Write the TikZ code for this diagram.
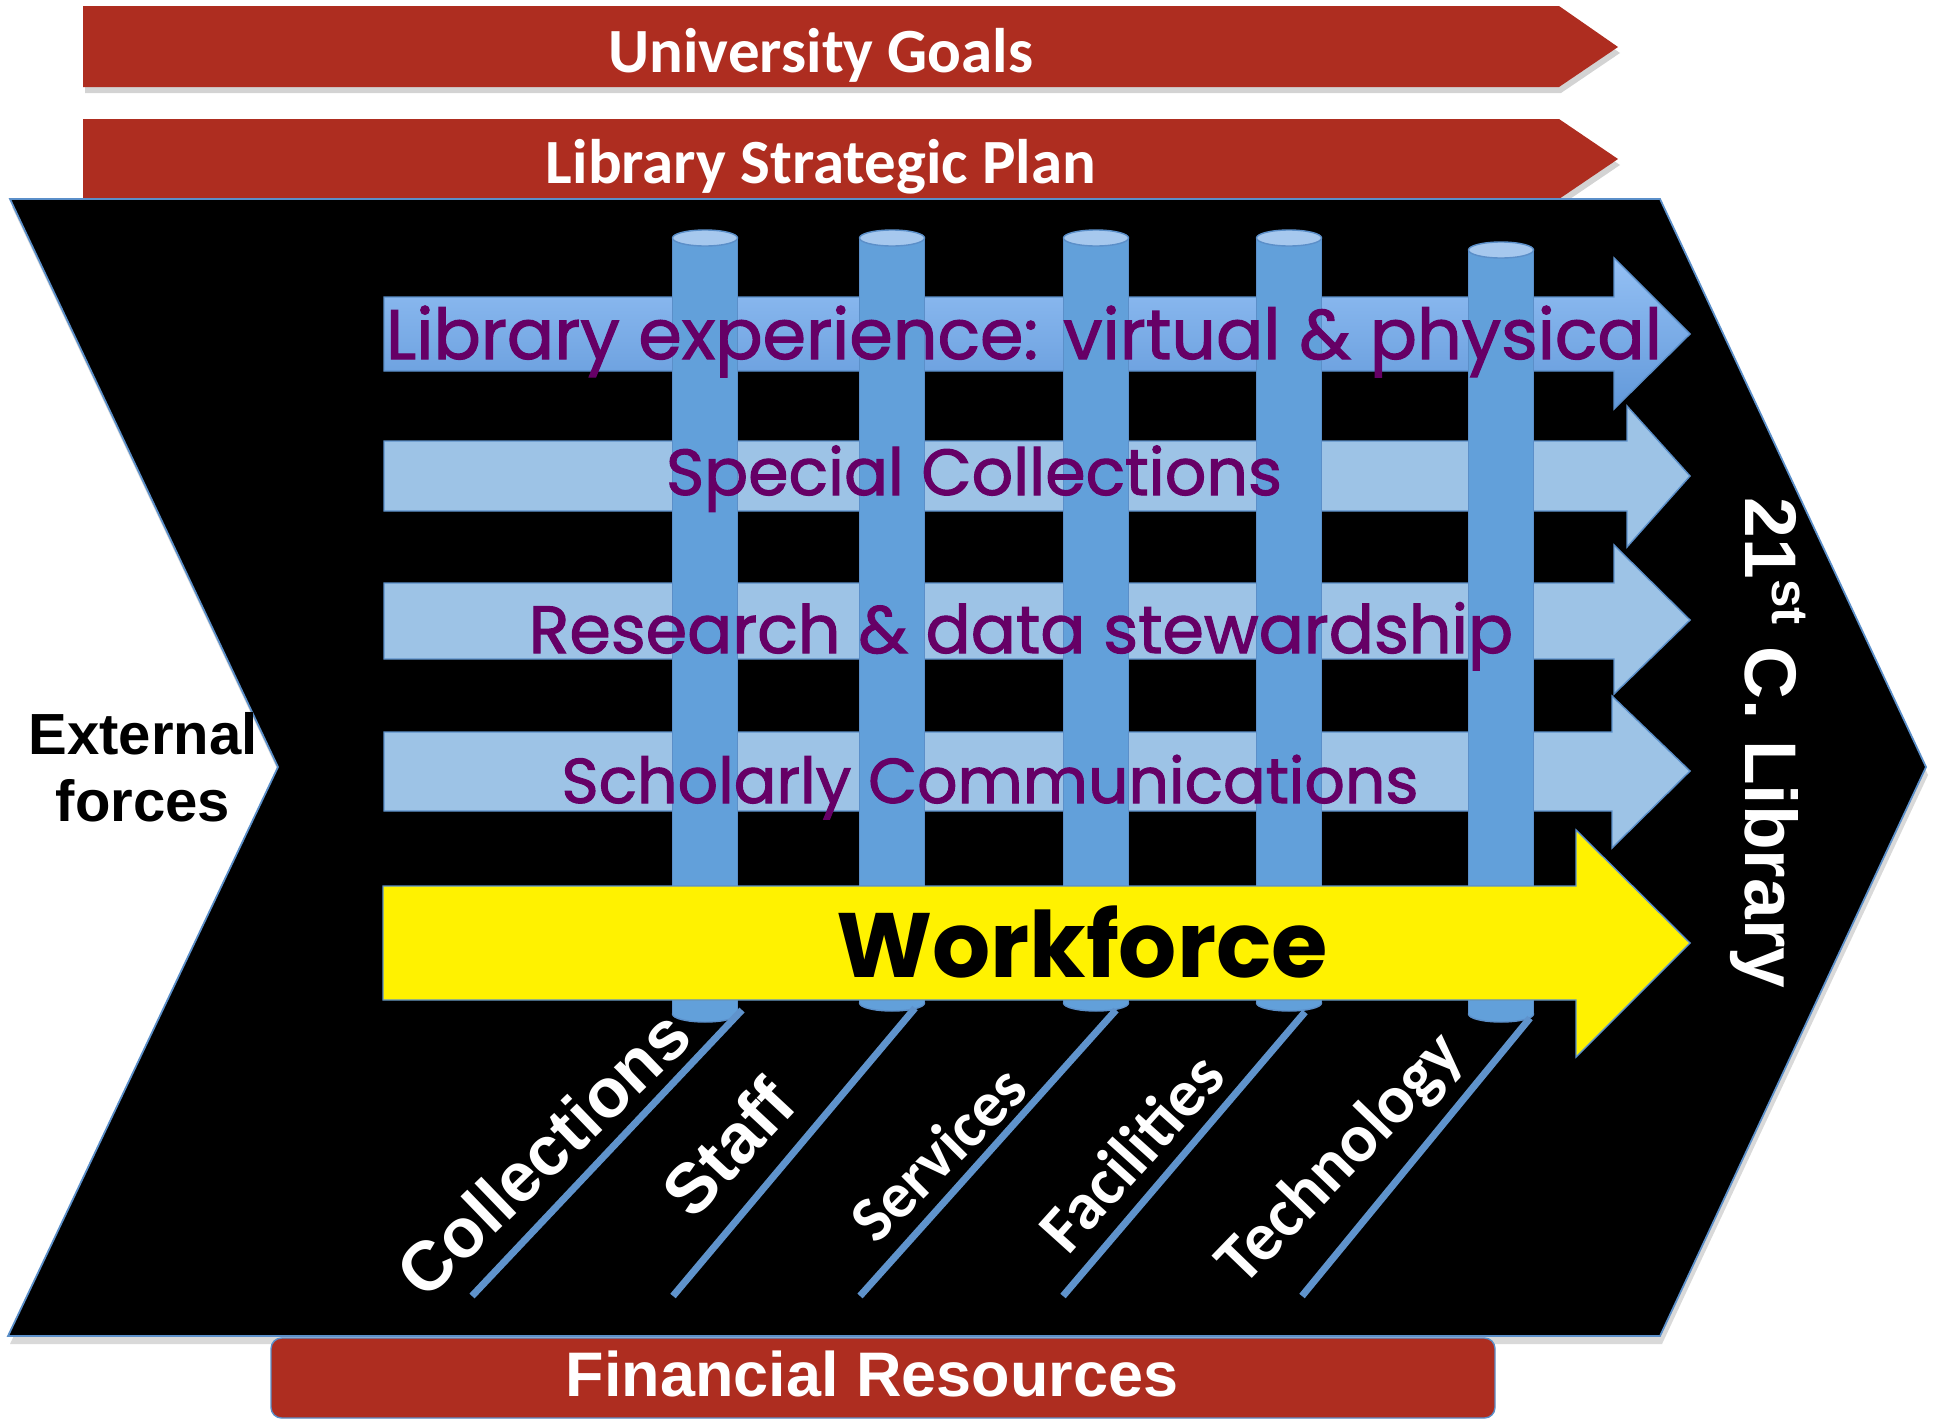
\documentclass[tikz,border=0pt]{standalone}
\usepackage{fontspec}
\setmainfont{Liberation Sans}
\newfontfamily\calibri{Carlito}
\newfontfamily\comic{Poppins}[FakeBold=1.6]
\newfontfamily\comicbold{Poppins Bold}
\usetikzlibrary{shadows}

\definecolor{goalred}{RGB}{174,45,32}
\definecolor{strandblue}{RGB}{157,195,230}
\definecolor{pillarblue}{RGB}{98,160,218}
\definecolor{pillartop}{RGB}{166,200,238}
\definecolor{edgeblue}{RGB}{91,143,201}
\definecolor{boneblue}{RGB}{95,147,204}
\definecolor{themepurple}{RGB}{102,0,102}

\def\pillar(#1)(#2:#3){%
	\filldraw[fill=pillarblue, draw=edgeblue, line width=0.4pt] (#1,#3) ellipse (32.5 and 8);
	\fill[pillarblue] (#1-32.5,#2) rectangle (#1+32.5,#3);
	\draw[edgeblue, line width=0.4pt] (#1-32.5,#2) -- (#1-32.5,#3) (#1+32.5,#2) -- (#1+32.5,#3);
	\filldraw[fill=pillartop, draw=edgeblue, line width=0.4pt] (#1,#2) ellipse (32.5 and 8);}

\begin{document}
\begin{tikzpicture}[x=0.01cm, y=-0.01cm,
		goaltext/.style={text=white, inner sep=0, anchor=base, font=\calibri\bfseries\fontsize{17.9}{21}\selectfont},
		themetext/.style={text=themepurple, inner sep=0, anchor=base},
		bonetext/.style={text=white, inner sep=0, anchor=center},
		bone/.style={boneblue, line width=2pt}]
		%%%%% START %%%%%
		\useasboundingbox (0,0) rectangle (1940,1421);
		
		% goals on top
		\fill[goalred, drop shadow={shadow xshift=0.02cm, shadow yshift=-0.06cm, opacity=0.35}] (83,6) -- (1559,6) -- (1618,47) -- (1559,87) -- (83,87) -- cycle;
		\fill[goalred, drop shadow={shadow xshift=0.02cm, shadow yshift=-0.06cm, opacity=0.35}] (83,119) -- (1559,119) -- (1618,159) -- (1559,199) -- (83,199) -- cycle;
		\node[goaltext] (goals) at (821,72) {University Goals};
		\node[goaltext] (plan) at (821,183) {Library Strategic Plan};
		
		% the black chevron
		\filldraw[fill=black, draw=edgeblue, line width=0.5pt, drop shadow={shadow xshift=0.02cm, shadow yshift=-0.08cm, opacity=0.3}]
			(10,199) -- (1660,199) -- (1926,767) -- (1660,1336) -- (8,1336) -- (278,767) -- cycle;
		
		% money at the bottom
		\filldraw[fill=goalred, draw=edgeblue, line width=0.4pt, rounded corners=3pt] (271,1338) rectangle (1495,1418);
		\node[text=white, inner sep=0, anchor=base, font=\bfseries\fontsize{17.9}{20}\selectfont] (money) at (872,1396) {Financial Resources};
		
		% strands
		\shade[top color={rgb,255:red,148;green,192;blue,244}, bottom color={rgb,255:red,98;green,153;blue,218}]
			(384,297) -- (1614,297) -- (1614,258) -- (1690,334) -- (1614,409) -- (1614,371) -- (384,371) -- cycle;
		\draw[edgeblue, line width=0.4pt] (384,297) -- (1614,297) -- (1614,258) -- (1690,334) -- (1614,409) -- (1614,371) -- (384,371) -- cycle;
		\filldraw[fill=strandblue, draw=edgeblue, line width=0.4pt] (384,441) -- (1627,441) -- (1627,406) -- (1690,476) -- (1627,547) -- (1627,511) -- (384,511) -- cycle;
		\filldraw[fill=strandblue, draw=edgeblue, line width=0.4pt] (384,583) -- (1614,583) -- (1614,545) -- (1690,620) -- (1614,694) -- (1614,659) -- (384,659) -- cycle;
		\filldraw[fill=strandblue, draw=edgeblue, line width=0.4pt] (384,732) -- (1612,732) -- (1612,696) -- (1690,771) -- (1612,848) -- (1612,811) -- (384,811) -- cycle;
		
		% pillars
		\pillar(705)(238:1014)
		\pillar(892)(238:1003)
		\pillar(1096)(238:1003)
		\pillar(1289)(238:1003)
		\pillar(1501)(250:1014)
		
		% workforce
		\filldraw[fill=yellow, draw=edgeblue, line width=0.4pt] (383,886) -- (1576,886) -- (1576,830) -- (1690,943) -- (1576,1057) -- (1576,1000) -- (383,1000) -- cycle;
		
		\node[themetext, font=\comic\fontsize{19.9}{23}\selectfont] (exp) at (1024,359) {Library experience: virtual \& physical};
		\node[themetext, font=\comic\fontsize{18.5}{22}\selectfont] (spec) at (974,495) {Special Collections};
		\node[themetext, font=\comic\fontsize{19}{22}\selectfont] (res) at (1021,653) {Research \& data stewardship};
		\node[themetext, font=\comic\fontsize{18}{22}\selectfont] (schol) at (990,803) {Scholarly Communications};
		\node[inner sep=0, anchor=base, font=\comicbold\fontsize{26}{30}\selectfont] (work) at (1082,977) {Workforce};
		
		% bones
		\draw[bone] (742,1010) -- (472,1296);
		\draw[bone] (915,1008) -- (673,1296);
		\draw[bone] (1116,1010) -- (860,1296);
		\draw[bone] (1305,1012) -- (1063,1296);
		\draw[bone] (1530,1018) -- (1302,1296);
		
		\node[bonetext, rotate=44, font=\bfseries\fontsize{19.8}{22}\selectfont] (coll) at (543,1153) {Collections};
		\node[bonetext, rotate=47, font=\bfseries\fontsize{20}{22}\selectfont] (staff) at (728,1147) {Staff};
		\node[bonetext, rotate=45, font=\calibri\bfseries\fontsize{18.3}{20}\selectfont] (serv) at (938,1153) {Services};
		\node[bonetext, rotate=48, font=\calibri\bfseries\fontsize{19}{21}\selectfont] (fac) at (1131,1152) {Facilities};
		\node[bonetext, rotate=46, font=\calibri\bfseries\fontsize{19.5}{21}\selectfont] (tech) at (1342,1160) {Technology};
		
		% sides
		\node[inner sep=0, align=center, font=\bfseries\fontsize{16.5}{19.1}\selectfont] (ext) at (143,767) {External\\forces};
		\node[text=white, inner sep=0, rotate=-90, font=\bfseries\fontsize{20.8}{24}\selectfont] (lib) at (1768,743) {21\textsuperscript{st} C. Library};
		%%%%% END %%%%%
\end{tikzpicture}
\end{document}
